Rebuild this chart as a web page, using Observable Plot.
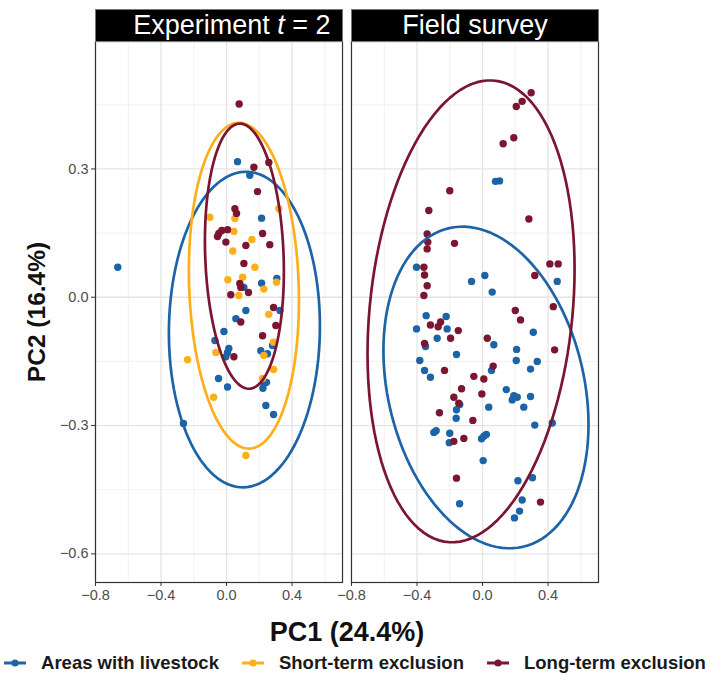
<!DOCTYPE html>
<html><head><meta charset="utf-8">
<script src="https://cdn.jsdelivr.net/npm/d3@7"></script>
<script src="https://cdn.jsdelivr.net/npm/@observablehq/plot@0.6"></script>
<style>
html,body{margin:0;padding:0;background:#fff;}
body{width:709px;height:676px;overflow:hidden;font-family:"Liberation Sans",Arial,sans-serif;}
#legend{display:flex;justify-content:center;align-items:center;gap:22px;font-weight:bold;font-size:18.5px;color:#1a1a1a;height:26px;}
.item{display:flex;align-items:center;gap:14px;}
.item svg{display:block;}
</style></head><body>
<div id="chart"></div>
<div id="legend"></div>
<script>
const panels = ["Experiment t = 2", "Field survey"];
const groups = ["Areas with livestock", "Short-term exclusion", "Long-term exclusion"];
const colors = ["#1c63a8", "#fbb01b", "#7b1530"];
const xTitle = "PC1 (24.4%)";
const yTitle = "PC2 (16.4%)";
const xTicks = [-0.8, -0.4, 0, 0.4];
const yTicks = [-0.6, -0.3, 0, 0.3];
const xMinor = [-0.6, -0.2, 0.2, 0.6];
const yMinor = [-0.45, -0.15, 0.15, 0.45];

// Experiment t = 2 panel: [PC1, PC2]
const expLivestock = [[0.067,0.317],[0.142,0.285],[0.214,0.185],[-0.664,0.070],[0.214,0.033],[0.307,0.044],[0.106,0.023],[0.118,-0.031],[0.326,-0.031],[0.057,-0.050],[-0.016,-0.080],[-0.071,-0.101],[0.281,-0.113],[0.006,-0.129],[0.014,-0.120],[-0.004,-0.139],[0.209,-0.125],[0.250,-0.132],[-0.049,-0.190],[0.006,-0.210],[0.228,-0.202],[0.244,-0.199],[0.222,-0.213],[0.240,-0.253],[0.287,-0.274],[-0.263,-0.295]];
const expShort = [[-0.102,0.187],[0.051,0.184],[0.319,0.207],[0.045,0.154],[0.155,0.135],[0.038,0.108],[0.173,0.070],[0.008,0.041],[0.098,0.047],[0.305,0.035],[0.228,0.019],[0.075,0.004],[0.258,-0.040],[0.287,-0.105],[-0.065,-0.129],[0.228,-0.136],[-0.238,-0.146],[0.287,-0.169],[0.220,-0.190],[-0.079,-0.234],[0.118,-0.370]];
const expLong = [[0.077,0.452],[0.167,0.304],[0.258,0.315],[0.189,0.247],[0.051,0.207],[0.061,0.196],[-0.047,0.149],[-0.029,0.156],[0.006,0.158],[-0.055,0.142],[-0.004,0.129],[0.220,0.149],[0.264,0.123],[0.118,0.121],[0.106,0.079],[0.081,0.032],[0.087,0.023],[0.026,0.006],[0.134,0.011],[0.287,-0.024],[0.087,-0.058],[0.220,-0.090],[0.301,-0.066],[0.045,-0.139]];

// Field survey panel: [PC1, PC2]
const fieldLivestock = [[0.079,0.271],[0.104,0.272],[-0.403,0.070],[-0.067,0.037],[0.014,0.051],[0.059,0.012],[0.456,0.037],[-0.344,-0.043],[-0.222,-0.045],[-0.403,-0.074],[-0.216,-0.074],[-0.277,-0.096],[-0.348,-0.115],[0.069,-0.111],[0.310,-0.082],[0.208,-0.122],[-0.159,-0.134],[-0.383,-0.148],[0.206,-0.148],[0.334,-0.150],[-0.354,-0.171],[-0.318,-0.187],[0.055,-0.171],[0.293,-0.168],[0.145,-0.216],[0.191,-0.230],[0.212,-0.234],[0.181,-0.240],[0.293,-0.232],[-0.139,-0.251],[0.038,-0.257],[0.252,-0.257],[-0.159,-0.263],[-0.161,-0.283],[0.319,-0.299],[0.426,-0.294],[-0.297,-0.316],[-0.283,-0.312],[-0.200,-0.318],[-0.203,-0.340],[-0.006,-0.331],[0.008,-0.325],[0.023,-0.321],[0.004,-0.382],[0.216,-0.429],[0.305,-0.422],[-0.140,-0.483],[0.242,-0.474],[0.226,-0.500],[0.195,-0.516]];
const fieldShort = [];
const fieldLong = [[0.297,0.478],[0.242,0.458],[0.206,0.446],[0.191,0.373],[0.126,0.359],[-0.200,0.249],[-0.328,0.203],[0.283,0.183],[-0.338,0.148],[-0.334,0.129],[-0.338,0.113],[-0.171,0.126],[-0.358,0.070],[-0.354,0.052],[0.411,0.078],[0.462,0.078],[0.319,0.051],[-0.338,0.027],[-0.358,0.004],[-0.318,-0.065],[-0.256,-0.058],[-0.271,-0.069],[-0.148,-0.078],[-0.195,-0.096],[-0.354,-0.108],[0.029,-0.096],[0.200,-0.031],[0.232,-0.053],[0.432,-0.022],[0.440,-0.123],[-0.232,-0.171],[0.065,-0.161],[-0.053,-0.185],[0.008,-0.191],[-0.128,-0.214],[-0.004,-0.226],[-0.175,-0.234],[-0.145,-0.248],[-0.263,-0.270],[-0.059,-0.288],[-0.175,-0.337],[-0.114,-0.330],[-0.159,-0.423],[0.354,-0.479]];

// 95% ellipses: centre, half-width, half-height, x-offset of top point
const ellPanel = [panels[0], panels[0], panels[0], panels[1], panels[1]];
const ellGroup = [groups[0], groups[1], groups[2], groups[0], groups[2]];
const ellCx = [0.109, 0.106, 0.109, 0.021, -0.070];
const ellCy = [-0.0755, 0.027, 0.096, -0.211, -0.033];
const ellWx = [0.461, 0.336, 0.241, 0.626, 0.632];
const ellHy = [0.369, 0.381, 0.310, 0.376, 0.540];
const ellTop = [0.010, -0.0305, -0.0275, -0.1435, 0.116];

const sets = [
  [panels[0], groups[0], expLivestock], [panels[0], groups[1], expShort], [panels[0], groups[2], expLong],
  [panels[1], groups[0], fieldLivestock], [panels[1], groups[1], fieldShort], [panels[1], groups[2], fieldLong]
];
const points = sets.flatMap(([panel, group, arr]) => arr.map(([x, y]) => ({panel, group, x, y})));

const ellPts = [];
ellCx.forEach((cx, i) => {
  const l11 = ellWx[i], l21 = ellHy[i] * ellTop[i] / ellWx[i];
  const l22 = Math.sqrt(ellHy[i] ** 2 - l21 ** 2);
  for (let k = 0; k <= 120; k++) {
    const t = 2 * Math.PI * k / 120;
    ellPts.push({id: i, panel: ellPanel[i], group: ellGroup[i],
      x: cx + l11 * Math.cos(t), y: ellCy[i] + l21 * Math.cos(t) + l22 * Math.sin(t)});
  }
});

const H = 650, mTop = 41, mBottom = 68;
const panelH = H - mTop - mBottom;
const fmt = d3.format(".1f");

const chart = Plot.plot({
  width: 709, height: H,
  marginLeft: 95, marginRight: 111, marginTop: mTop, marginBottom: mBottom,
  style: {fontFamily: "'Liberation Sans', Arial, sans-serif", fontSize: "14.5px", background: "white", overflow: "visible"},
  fx: {domain: panels, paddingInner: 0.035, paddingOuter: 0, axis: null, label: null, round: false},
  x: {domain: [-0.8, 0.708], label: null},
  y: {domain: [-0.667, 0.598], label: null},
  color: {domain: groups, range: colors},
  marks: [
    Plot.gridX(xMinor, {stroke: "#eeeeee", strokeOpacity: 1, strokeWidth: 0.8}),
    Plot.gridY(yMinor, {stroke: "#eeeeee", strokeOpacity: 1, strokeWidth: 0.8}),
    Plot.gridX(xTicks, {stroke: "#e4e4e4", strokeOpacity: 1, strokeWidth: 1.3}),
    Plot.gridY(yTicks, {stroke: "#e4e4e4", strokeOpacity: 1, strokeWidth: 1.3}),
    Plot.dot(points, {fx: "panel", x: "x", y: "y", fill: "group", r: 3.7, stroke: null}),
    Plot.line(ellPts, {fx: "panel", x: "x", y: "y", z: "id", stroke: "group", strokeWidth: 2.7}),
    Plot.frame({stroke: "#333", strokeWidth: 1.2}),
    Plot.frame({fill: "black", stroke: "#777", insetTop: -32, insetBottom: panelH}),
    Plot.text([panels[0]], {fx: d => d, text: d => d, frameAnchor: "top-right", textAnchor: "end", lineAnchor: "middle", dx: -12, dy: -16, fill: "white", fontSize: 27}),
    Plot.text([panels[1]], {fx: d => d, text: d => d, frameAnchor: "top", lineAnchor: "middle", dy: -16, fill: "white", fontSize: 27}),
    Plot.axisX(xTicks, {tickSize: 4, tickPadding: 3, tickFormat: fmt, stroke: "#333", fill: "#4d4d4d", fontSize: 14.5, label: null}),
    Plot.axisY(yTicks, {tickSize: 4, tickPadding: 3, tickFormat: fmt, stroke: "#333", fill: "#4d4d4d", fontSize: 14.5, label: null}),
    Plot.text([yTitle], {fx: () => panels[0], text: d => d, frameAnchor: "left", rotate: -90, dx: -58, dy: 0, textAnchor: "middle", lineAnchor: "middle", fontSize: 24.5, fontWeight: "bold", fill: "#111"}),
    Plot.text([xTitle], {fx: () => panels[0], text: d => d, frameAnchor: "bottom-right", dx: 4.5, dy: 50, textAnchor: "middle", lineAnchor: "middle", fontSize: 27, fontWeight: "bold", fill: "#111"})
  ]
});
document.getElementById("chart").appendChild(chart);

// italic t in the first strip label
d3.select(chart).selectAll("text").filter(function () { return this.textContent === panels[0]; }).each(function () {
  const el = d3.select(this);
  el.text(null);
  el.append("tspan").text("Experiment ");
  el.append("tspan").attr("font-style", "italic").text("t");
  el.append("tspan").text(" = 2");
});

// legend
const legend = d3.select("#legend");
groups.forEach((g, i) => {
  const item = legend.append("div").attr("class", "item");
  const s = item.append("svg").attr("width", 24).attr("height", 12);
  s.append("line").attr("x1", 1).attr("x2", 23).attr("y1", 6).attr("y2", 6).attr("stroke", colors[i]).attr("stroke-width", 3);
  s.append("circle").attr("cx", 12).attr("cy", 6).attr("r", 3.6).attr("fill", colors[i]);
  item.append("span").text(g);
});
</script>
</body></html>
